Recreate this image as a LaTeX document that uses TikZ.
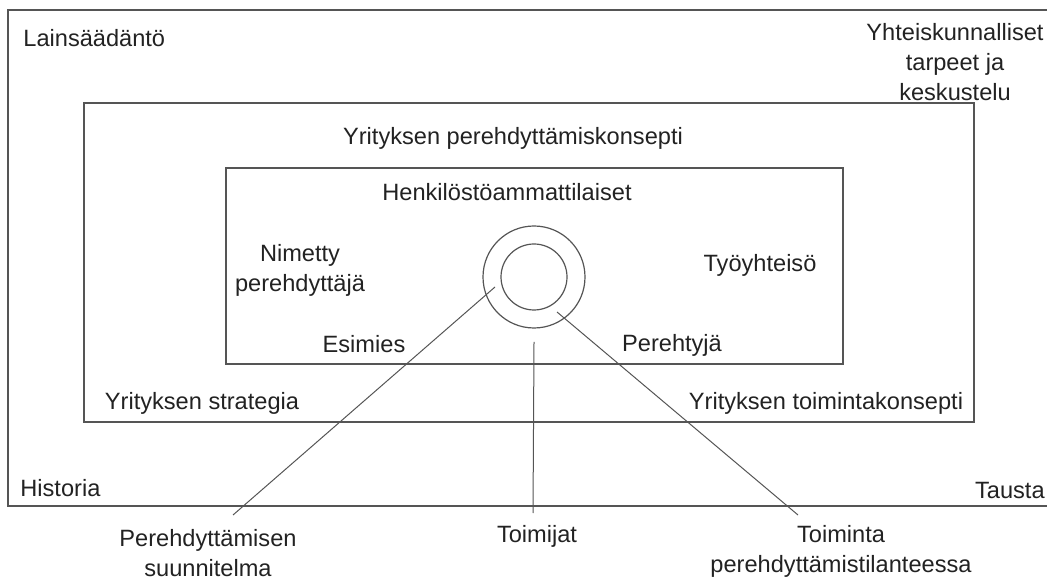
\documentclass[tikz,border=0pt]{standalone}
\usepackage{fontspec}
\setmainfont{Liberation Sans}
\usetikzlibrary{positioning}
\definecolor{framegray}{HTML}{555555}
\definecolor{inkblack}{HTML}{222222}

\begin{document}
\begin{tikzpicture}[x=0.5pt, y=-0.5pt,
	box/.style={draw=framegray, line width=0.8pt},
	ring/.style={circle, draw=framegray, line width=0.6pt, inner sep=0pt},
	lbl/.style={text=inkblack, font=\fontsize{11.8}{15}\selectfont, inner sep=0pt, align=center},
	conn/.style={draw=framegray, line width=0.5pt}
	]
	\useasboundingbox (0,0) rectangle (1047,581);
	% Frames
	\draw[box] (1047,10) -- (8,10) -- (8,506) -- (1047,506);
	\draw[box] (84,103) rectangle (974,422);
	\draw[box] (226,168) rectangle (843,364);
	% Rings
	\node[ring, minimum size=51pt] (outer) at (534,277) {};
	\node[ring, minimum size=33pt] (inner) at (outer.center) {};
	% Labels
	\node[lbl, anchor=west] (law) at (23,38) {Lainsäädäntö};
	\node[lbl] (society) at (955,62) {Yhteiskunnalliset\\tarpeet ja\\keskustelu};
	\node[lbl] (concept) at (513,138) {Yrityksen perehdyttämiskonsepti};
	\node[lbl] (hr) at (507,192) {Henkilöstöammattilaiset};
	\node[lbl] (mentor) at (300,270) {Nimetty\\perehdyttäjä};
	\node[lbl] (community) at (760,265) {Työyhteisö};
	\node[lbl] (boss) at (364,344) {Esimies};
	\node[lbl] (newcomer) at (672,345) {Perehtyjä};
	\node[lbl] (strategy) at (202,403) {Yrityksen strategia};
	\node[lbl] (operations) at (826,403) {Yrityksen toimintakonsepti};
	\node[lbl, anchor=west] (history) at (20,488) {Historia};
	\node[lbl, anchor=east] (background) at (1045,490) {Tausta};
	\node[lbl] (plan) at (208,553) {Perehdyttämisen\\suunnitelma};
	\node[lbl] (actors) at (537,536) {Toimijat};
	\node[lbl] (action) at (841,551) {Toiminta\\perehdyttämistilanteessa};
	% Connectors
	\coordinate (planstart) at (495,287);
	\coordinate (planend) at (233,515);
	\coordinate (actorsstart) at (534,342);
	\coordinate (actorsend) at (533,513);
	\coordinate (actionstart) at (557,312);
	\coordinate (actionend) at (798,515);
	\draw[conn] (planstart) -- (planend);
	\draw[conn] (actorsstart) -- (actorsend);
	\draw[conn] (actionstart) -- (actionend);
\end{tikzpicture}
\end{document}
